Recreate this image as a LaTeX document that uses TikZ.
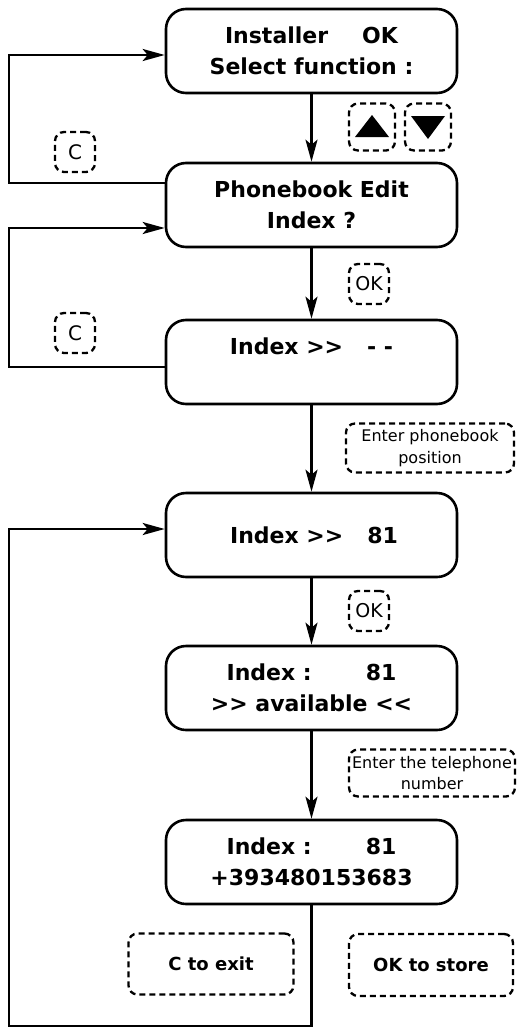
\documentclass[tikz,border=0pt]{standalone}
\usepackage{fontspec}
\setmainfont{DejaVu Sans}
\usetikzlibrary{arrows.meta}
\newcommand\dblgt{>\kern0pt>}
\newcommand\dbllt{<\kern0pt<}

\begin{document}
\begin{tikzpicture}[x=1pt,y=-1pt,
  screen/.style={draw,line width=2.6pt,rounded corners=20pt,minimum width=291pt,minimum height=84pt,inner sep=0pt,align=center,font=\fontsize{22}{31}\selectfont\bfseries},
  key/.style={draw,line width=2.3pt,dash pattern=on 6pt off 4pt,rounded corners=9pt,inner sep=0pt,align=center},
  arr/.style={line width=2.5pt,line join=miter,-{Stealth[length=22pt,width=12pt,inset=5pt]}}]
\useasboundingbox (0,0) rectangle (517,1028);
% screens
\node[screen] (menu) at (311.5,51) {Installer\hspace{34pt}OK\\Select function :};
\node[screen] (phonebook) at (311.5,205) {Phonebook Edit\\Index ?};
\node[screen] (idxempty) at (311.5,362) {Index \dblgt\hspace{24pt}- -\\\mbox{}};
\node[screen] (idxnum) at (311.5,535) {\hspace{5pt}Index \dblgt\hspace{24pt}81};
\node[screen] (avail) at (311.5,688) {Index :\hspace{54pt}81\\\dblgt{} available \dbllt};
\node[screen] (number) at (311.5,862) {Index :\hspace{54pt}81\\+393480153683};
% keys
\node[key,minimum width=40pt,minimum height=40pt,font=\fontsize{20}{22}\selectfont] (cmenu) at (75,152) {C};
\node[key,minimum width=40pt,minimum height=40pt,font=\fontsize{20}{22}\selectfont] (cidx) at (75,333) {C};
\node[key,minimum width=46pt,minimum height=47pt] (keyup) at (372,127) {};
\node[key,minimum width=46pt,minimum height=47pt] (keydown) at (428,127) {};
\fill ([shift={(-17,10)}]keyup.center) -- ([shift={(17,10)}]keyup.center) -- ([shift={(0,-12)}]keyup.center) -- cycle;
\fill ([shift={(-17,-11)}]keydown.center) -- ([shift={(17,-11)}]keydown.center) -- ([shift={(0,12)}]keydown.center) -- cycle;
\node[key,minimum width=40pt,minimum height=40pt,font=\fontsize{19}{21}\selectfont] (okidx) at (369,284) {OK};
\node[key,minimum width=40pt,minimum height=40pt,font=\fontsize{19}{21}\selectfont] (okavail) at (369,611) {OK};
\node[key,minimum width=168pt,minimum height=49pt,font=\fontsize{16}{22}\selectfont] (enterpos) at (430,448) {Enter phonebook\\position};
\node[key,minimum width=166pt,minimum height=47pt,font=\fontsize{16}{21}\selectfont] (entertel) at (432,773) {Enter the telephone\\number};
\node[key,minimum width=165pt,minimum height=61pt,font=\fontsize{18}{20}\selectfont\bfseries] (exitnote) at (211,964) {C to exit};
\node[key,minimum width=164pt,minimum height=62pt,font=\fontsize{18}{20}\selectfont\bfseries] (storenote) at (431,965) {OK to store};
% flow
\draw[arr] (menu) -- (phonebook);
\draw[arr] (phonebook) -- (idxempty);
\draw[arr] (idxempty) -- (idxnum);
\draw[arr] (idxnum) -- (avail);
\draw[arr] (avail) -- (number);
% back loops
\coordinate (loopa1) at (9,183);
\coordinate (loopa2) at (9,55);
\draw[arr] (phonebook.west |- loopa1) -- (loopa1) -- (loopa2) -- (menu.west |- loopa2);
\coordinate (loopb1) at (9,367);
\coordinate (loopb2) at (9,228);
\draw[arr] (idxempty.west |- loopb1) -- (loopb1) -- (loopb2) -- (phonebook.west |- loopb2);
\coordinate (loopc1) at (311.5,1026);
\coordinate (loopc2) at (9,1026);
\coordinate (loopc3) at (9,529);
\draw[arr] (number.south) -- (loopc1) -- (loopc2) -- (loopc3) -- (idxnum.west |- loopc3);
\end{tikzpicture}
\end{document}
